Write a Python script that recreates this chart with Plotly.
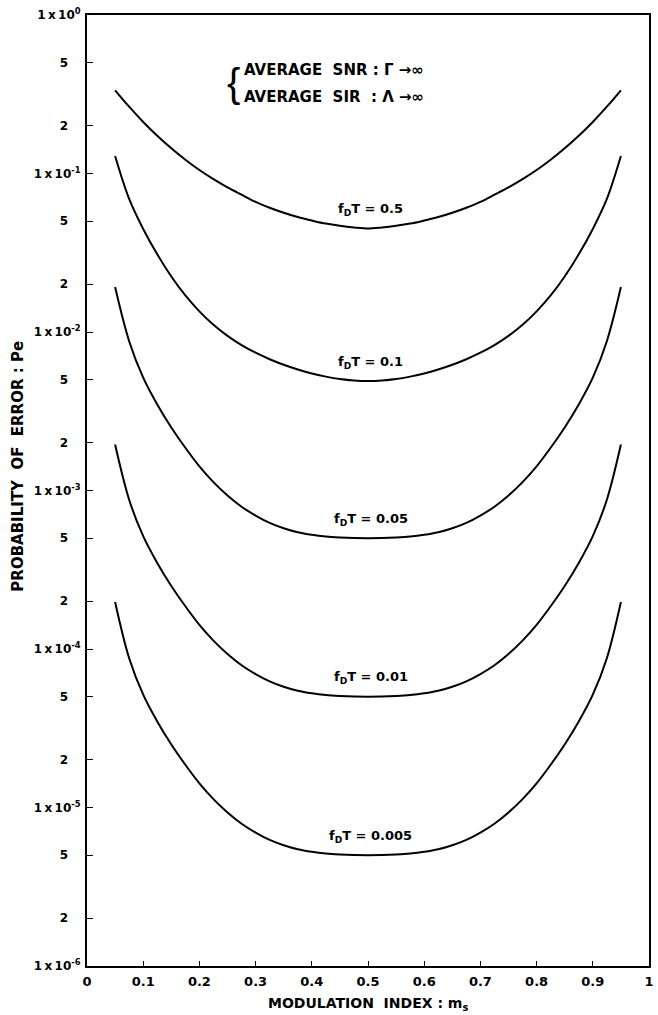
import math
import plotly.graph_objects as go

# modulation index m_s
m_s = [0.05, 0.075, 0.1, 0.125, 0.15, 0.175, 0.2, 0.225, 0.25, 0.275, 0.3, 0.325, 0.35, 0.375, 0.4,
       0.425, 0.45, 0.475, 0.5, 0.525, 0.55, 0.575, 0.6, 0.625, 0.65, 0.675, 0.7, 0.725, 0.75,
       0.775, 0.8, 0.825, 0.85, 0.875, 0.9, 0.925, 0.95]

pe_fdt_0_5 = [0.335, 0.264, 0.2115, 0.173, 0.1443, 0.1222, 0.1052, 0.0921, 0.0817, 0.0735, 0.0662, 0.0608,
              0.0565, 0.0531, 0.0505, 0.0483, 0.0468, 0.0457, 0.045, 0.0457, 0.0468, 0.0483, 0.0505, 0.0531,
              0.0565, 0.0608, 0.0662, 0.0735, 0.0817, 0.0921, 0.1052, 0.1222, 0.1443, 0.173, 0.2115, 0.264, 0.335]
pe_fdt_0_1 = [0.129, 0.0692, 0.0447, 0.0309, 0.0224, 0.0170, 0.0135, 0.0111, 0.00945, 0.00827, 0.0074, 0.00673,
              0.00621, 0.0058, 0.00547, 0.00523, 0.00505, 0.00494, 0.0049, 0.00494, 0.00505, 0.00523, 0.00547,
              0.0058, 0.00621, 0.00673, 0.0074, 0.00827, 0.00945, 0.0111, 0.0135, 0.0170, 0.0224, 0.0309,
              0.0447, 0.0692, 0.129]
pe_fdt_0_05 = [0.0192, 0.00875, 0.00515, 0.00349, 0.0025, 0.00186, 0.00142, 0.00113, 0.00093, 0.00079,
               0.000695, 0.000625, 0.000578, 0.000545, 0.000525, 0.000512, 0.000505, 0.000501, 0.0005,
               0.000501, 0.000505, 0.000512, 0.000525, 0.000545, 0.000578, 0.000625, 0.000695, 0.00079,
               0.00093, 0.00113, 0.00142, 0.00186, 0.0025, 0.00349, 0.00515, 0.00875, 0.0192]
pe_fdt_0_01 = [0.00195, 0.000875, 0.000515, 0.000349, 0.00025, 0.000186, 0.000142, 0.000113, 9.3e-5, 7.9e-5,
               6.95e-5, 6.25e-5, 5.78e-5, 5.45e-5, 5.25e-5, 5.12e-5, 5.05e-5, 5.01e-5, 5.0e-5,
               5.01e-5, 5.05e-5, 5.12e-5, 5.25e-5, 5.45e-5, 5.78e-5, 6.25e-5, 6.95e-5, 7.9e-5,
               9.3e-5, 0.000113, 0.000142, 0.000186, 0.00025, 0.000349, 0.000515, 0.000875, 0.00195]
pe_fdt_0_005 = [1.98e-4, 8.75e-5, 5.15e-5, 3.49e-5, 2.5e-5, 1.86e-5, 1.42e-5, 1.13e-5, 9.3e-6, 7.9e-6,
                6.95e-6, 6.25e-6, 5.78e-6, 5.45e-6, 5.25e-6, 5.12e-6, 5.05e-6, 5.01e-6, 5.0e-6,
                5.01e-6, 5.05e-6, 5.12e-6, 5.25e-6, 5.45e-6, 5.78e-6, 6.25e-6, 6.95e-6, 7.9e-6,
                9.3e-6, 1.13e-5, 1.42e-5, 1.86e-5, 2.5e-5, 3.49e-5, 5.15e-5, 8.75e-5, 1.98e-4]

curve_labels = ["0.5", "0.1", "0.05", "0.01", "0.005"]
curve_series = [pe_fdt_0_5, pe_fdt_0_1, pe_fdt_0_05, pe_fdt_0_01, pe_fdt_0_005]

x_tick_vals = [0, 0.1, 0.2, 0.3, 0.4, 0.5, 0.6, 0.7, 0.8, 0.9, 1]
x_tick_text = ["0", "0.1", "0.2", "0.3", "0.4", "0.5", "0.6", "0.7", "0.8", "0.9", "1"]

y_decades = [0, -1, -2, -3, -4, -5, -6]
y_minor_mult = [5, 2]

FONT = "DejaVu Sans"
NB = "\u00a0"
TH = "\u2009"

y_tick_vals, y_tick_text = [], []
for d in y_decades:
    y_tick_vals.append(10.0 ** d)
    y_tick_text.append(f"1{TH}x{TH}10<sup>{d}</sup>")
    if d > -6:
        for mlt in y_minor_mult:
            y_tick_vals.append(mlt * 10.0 ** (d - 1))
            y_tick_text.append(f"{mlt}" + NB * 3)

fig = go.Figure()
for lab, ser in zip(curve_labels, curve_series):
    fig.add_trace(go.Scatter(x=m_s, y=ser, mode="lines", line=dict(color="black", width=2, shape="spline"),
                             showlegend=False, name=lab))
    fig.add_annotation(x=0.505, y=math.log10(min(ser)), xref="x", yref="y",
                       text=f"f<sub>D</sub>T = {lab}", showarrow=False, yshift=19,
                       font=dict(family=FONT, size=13, color="black", weight="bold"))

fig.add_annotation(xref="paper", yref="paper", x=0.261, y=0.9285, text="{", showarrow=False,
                   font=dict(family="Liberation Sans", size=40, color="black", weight="normal"),
                   xanchor="center", yanchor="middle")
fig.add_annotation(xref="paper", yref="paper", x=0.275, y=0.942, xanchor="left", yanchor="middle",
                   text=f"AVERAGE{NB*2}SNR{NB}:{NB}\u0393{NB}\u2192\u221e", showarrow=False,
                   font=dict(family=FONT, size=15, color="black", weight="bold"))
fig.add_annotation(xref="paper", yref="paper", x=0.275, y=0.914, xanchor="left", yanchor="middle",
                   text=f"AVERAGE{NB*2}SIR{NB*2}:{NB}\u039b{NB}\u2192\u221e", showarrow=False,
                   font=dict(family=FONT, size=15, color="black", weight="bold"))

fig.add_annotation(xref="paper", yref="paper", x=-0.123, y=0.526, textangle=-90,
                   xanchor="center", yanchor="middle",
                   text=f"PROBABILITY{NB}{NB}OF{NB}{NB}ERROR{NB}:{NB}Pe", showarrow=False,
                   font=dict(family=FONT, size=15, color="black", weight="bold"))
fig.add_annotation(xref="paper", yref="paper", x=0.5, y=-0.040, xanchor="center", yanchor="middle",
                   text=f"MODULATION{NB}{NB}INDEX{NB}:{NB}m<sub>s</sub>", showarrow=False,
                   font=dict(family=FONT, size=14, color="black", weight="bold"))

fig.update_layout(
    width=658, height=1015,
    margin=dict(l=87, r=4, t=15, b=49),
    plot_bgcolor="white", paper_bgcolor="white",
    font=dict(family=FONT, size=13, color="black", weight="bold"),
)
fig.update_xaxes(range=[0, 1], tickvals=x_tick_vals, ticktext=x_tick_text, ticks="inside", ticklen=5,
                 tickwidth=1, tickcolor="black", showline=True, linecolor="black", linewidth=2,
                 mirror=True, showgrid=False, zeroline=False, ticklabelstandoff=2)
fig.update_yaxes(type="log", range=[-6, 0], tickvals=y_tick_vals, ticktext=y_tick_text, ticks="inside",
                 ticklen=6, tickwidth=1, tickcolor="black", showline=True, linecolor="black", linewidth=2,
                 mirror=True, showgrid=False, zeroline=False, ticklabelstandoff=2,
                 tickfont=dict(family=FONT, size=12, color="black", weight="bold"))

fig.write_html("out.html", config={"displayModeBar": False},
               post_script="document.body.style.margin='0';document.body.style.overflow='hidden';")
